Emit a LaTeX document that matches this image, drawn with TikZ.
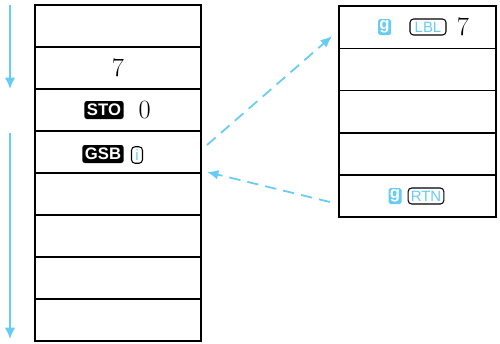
\documentclass[tikz,border=0pt]{standalone}
\usepackage{fontspec}
\newfontfamily\keyfont{Liberation Sans}
\usepackage{tikz}
\usetikzlibrary{arrows.meta, positioning, calc}
\definecolor{keyblue}{RGB}{102,204,245}

\begin{document}
\begin{tikzpicture}[
  x=0.02cm, y=-0.02cm,
  every node/.style={inner sep=0pt, outer sep=0pt},
  cellL/.style   ={rectangle, draw, line width=0.9pt,
                   minimum width=3.32cm, minimum height=0.84cm},
  cellR/.style   ={rectangle, draw, line width=0.9pt,
                   minimum width=3.14cm, minimum height=0.844cm},
  digit/.style   ={font=\fontsize{15}{16}\selectfont},
  blackkey/.style={rectangle, fill=black, rounded corners=1.5pt, text=white,
                   font=\keyfont\bfseries\fontsize{9.5}{10}\selectfont,
                   minimum height=0.36cm, inner xsep=1.5pt},
  gkey/.style    ={rectangle, fill=keyblue, rounded corners=1pt, text=white,
                   font=\keyfont\bfseries\fontsize{9.5}{10}\selectfont,
                   minimum height=0.32cm, minimum width=0.26cm},
  linekey/.style ={rectangle, draw, line width=0.6pt, rounded corners=2pt,
                   text=keyblue, font=\keyfont\fontsize{8.5}{9}\selectfont,
                   minimum height=0.32cm, inner xsep=1.5pt},
  arr/.style     ={-{Latex[length=6.5pt, width=6pt]}, line width=1pt, keyblue},
  arr2/.style    ={-{Latex[length=6.5pt, width=5.5pt]}, line width=1pt, keyblue,
                   dash pattern=on 6.5pt off 4pt},
]
\useasboundingbox (0,0) rectangle (500,343);

% Main program
\foreach \i in {1,...,8}
  \node[cellL] (L\i) at (118,{26+42*(\i-1)}) {};

% Subroutine
\foreach \i in {1,...,5}
  \node[cellR] (R\i) at (417.5,{27.2+42.2*(\i-1)}) {};

% Main program steps
\node[digit] (n7) at (L2.center) {7};
\node[blackkey, minimum width=0.66cm] (sto) at (104,110) {STO};
\node[digit, right=4.2mm of sto.east, anchor=center] (n0) {0};
\node[blackkey, minimum width=0.74cm] (gsb) at (103,154) {GSB};
\node[linekey, minimum width=0.22cm, minimum height=0.33cm] (ikey) at (137,155) {i};

% Subroutine steps
\node[gkey] (g1) at (384.5,27) {g};
\node[linekey, minimum width=0.72cm] (lbl) at (428,27) {LBL};
\node[digit] (m7) at (463,27) {7};
\node[gkey] (g2) at (395,196) {g};
\node[linekey, minimum width=0.66cm] (rtn) at (426,196) {RTN};

% Flow of execution
\coordinate (f1) at (10,5);
\coordinate (f2) at (10,89);
\coordinate (f3) at (10,133);
\coordinate (f4) at (10,339);
\draw[arr] (f1) -- (f2);
\draw[arr] (f3) -- (f4);

% Jump to subroutine and return
\draw[arr2] ($(L4.east)+(6,-7)$) -- ($(R1.west)+(-7,9)$);
\draw[arr2] ($(R5.west)+(-9,6)$) -- ($(L4.east)+(6,20)$);

\end{tikzpicture}
\end{document}
